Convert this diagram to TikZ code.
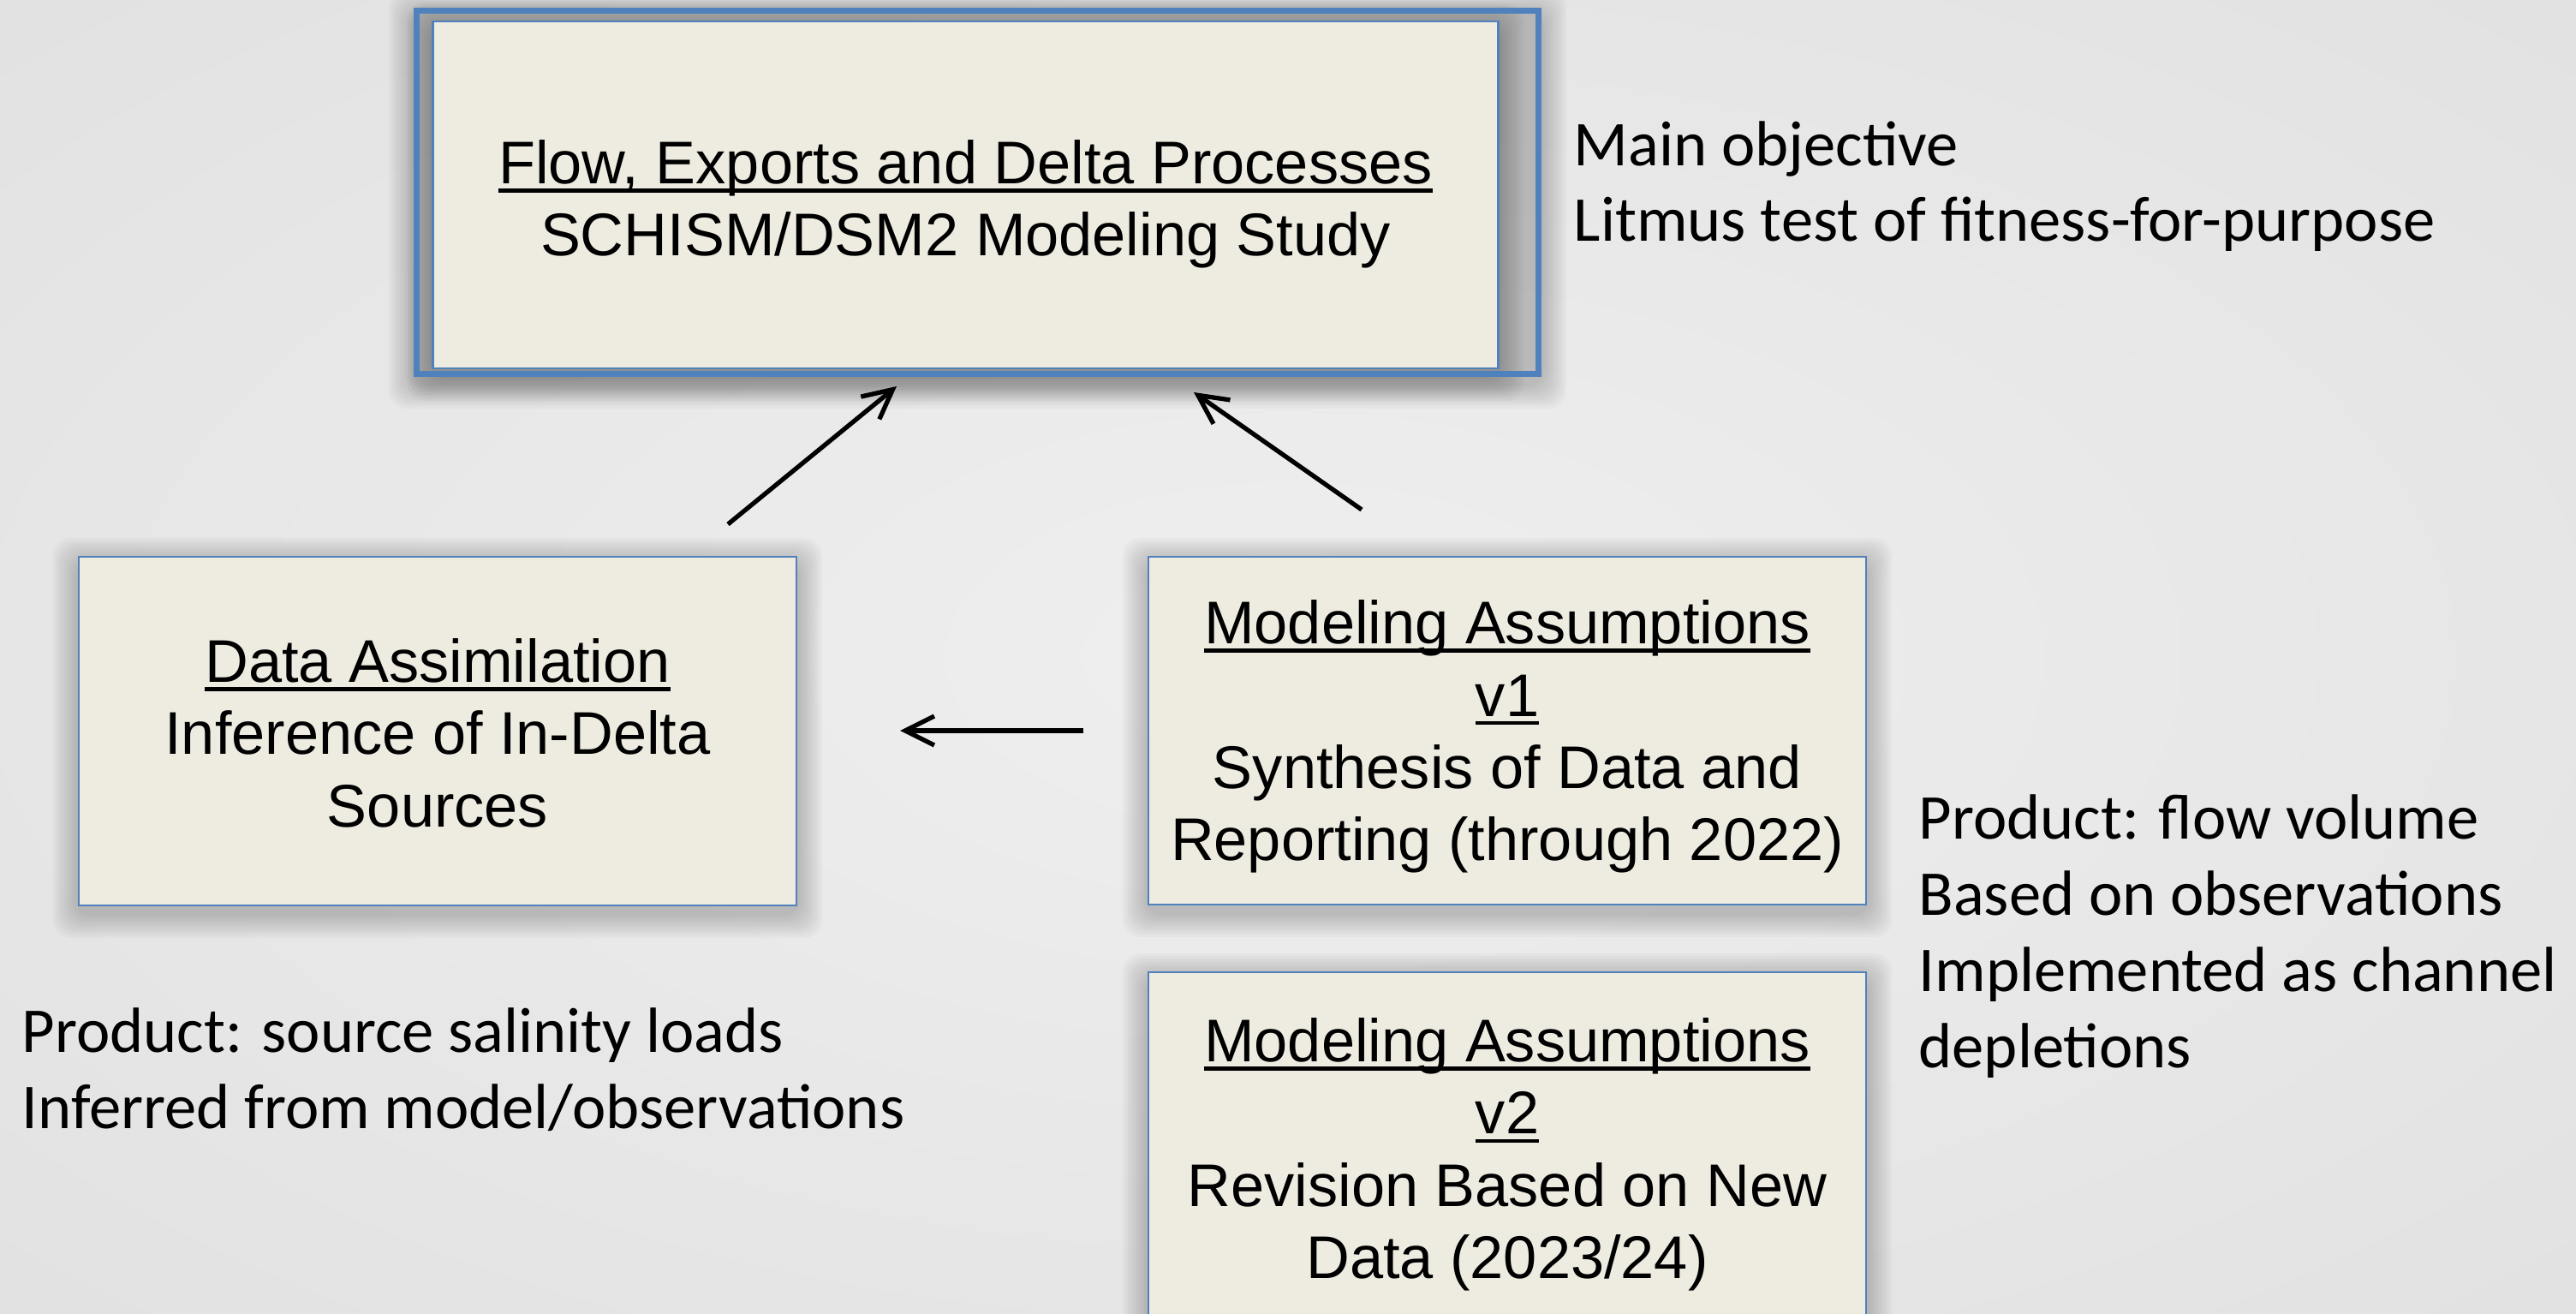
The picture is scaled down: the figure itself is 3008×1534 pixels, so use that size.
\documentclass[tikz,border=0pt]{standalone}
\usepackage{fontspec}
\newfontfamily\boxfam{Liberation Sans}
\newfontfamily\notefam{Carlito}
\usetikzlibrary{arrows.meta,calc}
\definecolor{boxblue}{RGB}{79,129,189}
\definecolor{boxfill}{RGB}{238,236,225}
\definecolor{bgin}{RGB}{239,239,239}
\definecolor{bgout}{RGB}{212,212,212}
\pgfdeclareradialshading{bgshade}{\pgfpoint{0bp}{0bp}}{color(0bp)=(bgin); color(72bp)=(bgout)}
\pgfdeclarelayer{bglayer}
\pgfdeclarelayer{shlayer}
\pgfsetlayers{bglayer,shlayer,main}
\newsavebox\ulbox
\newcommand\ulx[1]{\sbox\ulbox{#1}\leavevmode\rlap{\rule[-0.145em]{\wd\ulbox}{0.065em}}\usebox\ulbox}
% box text: lines centred, lowered by #1 without changing the box size
\newcommand\btext[2]{\raisebox{-#1}[\height][\depth]{\begin{tabular}{@{}c@{}}#2\end{tabular}}}
\tikzset{
  boxnode/.style={draw=boxblue, line width=0.7pt, fill=boxfill, inner sep=0pt,
    font=\boxfam\fontsize{20}{24}\selectfont},
  topframe/.style={draw=boxblue, line width=2pt, inner sep=0pt},
  note/.style={align=left, anchor=base west, inner sep=0pt,
    font=\notefam\fontsize{21.2}{25.3}\selectfont},
  arr/.style={-{Straight Barb[length=0.34cm,width=0.34cm]}, line width=1.5pt, black},
}
\begin{document}
\begin{tikzpicture}[x=0.01cm,y=-0.01cm]
\useasboundingbox (0,0) rectangle (3008,1534);
% boxes
\node[topframe, minimum width=13.10cm, minimum height=4.24cm] (tf) at (1141.5,224.5) {};
\node[boxnode, minimum width=12.43cm, minimum height=4.05cm] (tb) at (1127.5,227.5)
  {\btext{3.5pt}{\ulx{Flow, Exports and Delta Processes}\\SCHISM/DSM2 Modeling Study}};
\node[boxnode, minimum width=8.38cm, minimum height=4.07cm] (da) at (511,853.5)
  {\btext{3.0pt}{\ulx{Data Assimilation}\\Inference of In-Delta\\Sources}};
\node[boxnode, minimum width=8.38cm, minimum height=4.06cm] (v1) at (1760,853)
  {\btext{2.4pt}{\ulx{Modeling Assumptions}\\\ulx{v1}\\Synthesis of Data and\\Reporting (through 2022)}};
\node[boxnode, minimum width=8.38cm, minimum height=4.06cm] (v2) at (1760,1338)
  {\btext{3.2pt}{\ulx{Modeling Assumptions}\\\ulx{v2}\\Revision Based on New\\Data (2023/24)}};
% notes (anchor = baseline of last line)
\node[note] (n1) at (1837,282) {Main objective\\Litmus test of fitness-for-purpose};
\node[note] (n2) at (25,1317) {Product: source salinity loads\\Inferred from model/observations};
\node[note] (n3) at (2240,1246) {Product: flow volume\\Based on observations\\Implemented as channel\\depletions};
% arrows
\coordinate (a1s) at (850,612);  \coordinate (a1e) at (1047,451);
\coordinate (a2s) at (1590,595); \coordinate (a2e) at (1394,458);
\coordinate (a3s) at (1265,853); \coordinate (a3e) at (1051,853);
\draw[arr] (a1s) -- (a1e);
\draw[arr] (a2s) -- (a2e);
\draw[arr] (a3s) -- (a3e);
% shadows
\begin{pgfonlayer}{shlayer}
\foreach \n in {tf,tb,da,v1,v2}{
  \foreach \k in {1,...,9}{
    \pgfmathsetmacro\d{3.2*\k}
    \fill[black,opacity=0.025,rounded corners=6pt] ($(\n.north west)+(-\d,-\d+8)$) rectangle ($(\n.south east)+(\d,\d+8)$);
  }
}
\end{pgfonlayer}
\begin{pgfonlayer}{bglayer}
\shade[shading=bgshade] (0,0) rectangle (3008,1534);
\end{pgfonlayer}
\end{tikzpicture}
\end{document}
